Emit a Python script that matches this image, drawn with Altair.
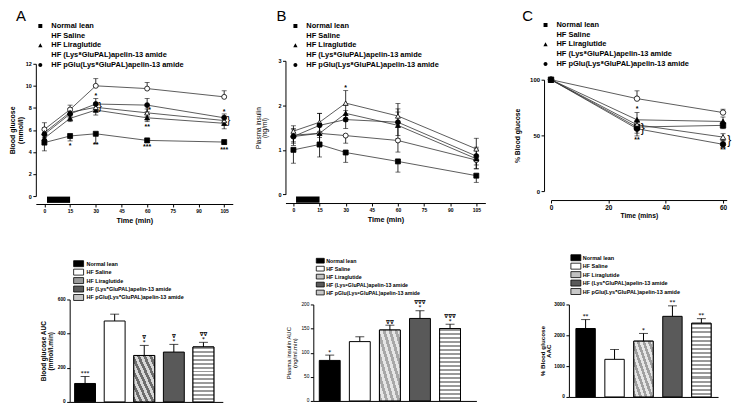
import altair as alt
import pandas as pd

FONT = "Liberation Sans"
SYMFONT = "DejaVu Sans"

GROUPS = ["Normal lean", "HF Saline", "HF Liraglutide",
          "HF (Lys⁸GluPAL)apelin-13 amide",
          "HF pGlu(Lys⁸GluPAL)apelin-13 amide"]

# ---------------- Panel A: blood glucose (mmol/l) ----------------
A_TIME = [0, 15, 30, 60, 105]
A_LEAN = [4.85, 5.45, 5.65, 5.05, 4.9]
A_SALINE = [6.05, 7.85, 10.0, 9.75, 9.0]
A_LIRA = [5.25, 7.05, 7.8, 7.1, 6.6]
A_LYS = [5.75, 7.6, 8.05, 7.55, 6.85]
A_PGLU = [5.6, 7.45, 8.35, 8.25, 7.1]
A_LEAN_SEM = [0.75, 0.45, 0.9, 0.2, 0.2]
A_SALINE_SEM = [0.6, 0.4, 0.65, 0.55, 0.55]
A_LIRA_SEM = [0.35, 0.3, 0.45, 0.35, 0.5]
A_LYS_SEM = [0.45, 0.35, 0.4, 0.35, 0.4]
A_PGLU_SEM = [0.45, 0.35, 0.5, 0.6, 0.35]
A_MARK_T = [15, 30, 60, 105, 30, 61.5, 60, 105]
A_MARK_Y = [4.55, 4.6, 4.45, 4.15, 9.1, 7.8, 6.3, 7.65]
A_MARK = ["*", "**", "***", "***", "*", "*", "**", "*"]
A_BRACE_T = [32.5, 107.5]
A_BRACE_Y = [8.1, 6.85]
A_INJECT = [1.5, 15]

# ---------------- Panel B: plasma insulin (ng/ml) ----------------
B_TIME = [0, 15, 30, 60, 105]
B_LEAN = [1.0, 1.12, 0.94, 0.74, 0.42]
B_SALINE = [1.3, 1.37, 1.32, 1.21, 0.77]
B_LIRA = [1.33, 1.37, 1.82, 1.55, 0.8]
B_LYS = [1.42, 1.62, 2.05, 1.76, 1.02]
B_PGLU = [1.3, 1.55, 1.68, 1.62, 0.86]
B_LEAN_SEM = [0.3, 0.28, 0.22, 0.24, 0.15]
B_SALINE_SEM = [0.2, 0.3, 0.17, 0.26, 0.2]
B_LIRA_SEM = [0.15, 0.2, 0.18, 0.3, 0.22]
B_LYS_SEM = [0.12, 0.2, 0.28, 0.28, 0.24]
B_PGLU_SEM = [0.15, 0.27, 0.2, 0.3, 0.2]
B_MARK_T = [30]
B_MARK_Y = [2.38]
B_MARK = ["*"]
B_INJECT = [1.5, 15]

# ---------------- Panel C: % blood glucose ----------------
C_TIME = [0, 30, 60]
C_LEAN = [100, 57.5, 59]
C_SALINE = [100, 83, 70.5]
C_LIRA = [100, 64, 62.5]
C_LYS = [100, 59.5, 48.5]
C_PGLU = [100, 56, 42]
C_LEAN_SEM = [0, 8, 3]
C_SALINE_SEM = [0, 7, 3]
C_LIRA_SEM = [0, 6.5, 4]
C_LYS_SEM = [0, 4, 3]
C_PGLU_SEM = [0, 4, 3]
C_MARK_T = [30, 30, 60]
C_MARK_Y = [74, 46, 36.5]
C_MARK = ["*", "**", "**"]
C_BRACE_T = [32, 62.2]
C_BRACE_Y = [57, 45.5]

# ---------------- Bar panels (AUC / AAC) ----------------
BA_MEAN = [108, 474, 272, 292, 322]
BA_SEM = [41, 40, 59, 45, 27]
BA_L1 = ["***", "", "*", "*", "*"]
BA_L2 = ["", "", "∇", "∇", "∇∇"]
BB_MEAN = [84, 123, 147, 171, 150]
BB_SEM = [11, 10, 10, 16, 9]
BB_L1 = ["*", "", "∇∇", "*", "*"]
BB_L2 = ["", "", "", "∇∇∇", "∇∇∇"]
BC_MEAN = [2220, 1220, 1810, 2615, 2390]
BC_SEM = [290, 320, 250, 340, 150]
BC_L1 = ["**", "", "*", "**", "**"]
BC_L2 = ["", "", "", "", ""]

SHAPES = ["square", "circle", "triangle-up", "triangle-up", "circle"]
FILLS = ["black", "white", "black", "white", "black"]
_SQ = "M-1.5,0H-0.6M0.6,0H1.5M-0.6,-0.6H0.6V0.6H-0.6Z"
_CI = "M-1.5,0H-0.6M0.6,0H1.5M-0.6,0A0.6,0.6,0,1,1,0.6,0A0.6,0.6,0,1,1,-0.6,0Z"
_TR = "M-1.5,0H-0.6M0.6,0H1.5M0,-0.7L0.65,0.5H-0.65Z"
LEG_SHAPES = [_SQ, _CI, _TR, _TR, _CI]
SWATCH = "M-1,-0.6H1V0.6H-1Z"


def long_tables(times, series, sems, dirs):
    rows, caps = [], []
    for g, m, s, d in zip(GROUPS, series, sems, dirs):
        for t, v, e in zip(times, m, s):
            lo = v - e if d in ("down", "both") else v
            hi = v + e if d in ("up", "both") else v
            rows.append({"g": g, "t": t, "v": v, "lo": lo, "hi": hi})
            if e > 0:
                if d in ("down", "both"):
                    caps.append({"g": g, "t": t, "c": lo})
                if d in ("up", "both"):
                    caps.append({"g": g, "t": t, "c": hi})
    return pd.DataFrame(rows), pd.DataFrame(caps)


def line_panel(p):
    df, caps = long_tables(p["times"], p["series"], p["sems"], p["dirs"])
    if p.get("xrange"):
        xs = alt.Scale(domain=p["xdom"], range=p["xrange"], nice=False, zero=False)
    else:
        xs = alt.Scale(domain=p["xdom"], nice=False, zero=False)
    ys = alt.Scale(domain=p["ydom"], range=p["yrange"], nice=False, zero=False)
    xax = alt.Axis(values=p["xticks"], title=p["xtitle"], format="d", domain=True,
                   domainColor="black", domainWidth=1, tickColor="black", tickSize=3, tickWidth=1,
                   labelFont=FONT, labelFontSize=p["xlab"], labelFontWeight="bold", labelPadding=1.5,
                   labelColor="black", labelFlush=False, labelOverlap=False,
                   titleFont=FONT, titleFontSize=p["xtitle_size"], titleFontWeight="bold",
                   titleColor="black", titlePadding=p["xtitle_pad"], grid=False)
    yax = alt.Axis(values=p["yticks"], title=p["ytitle"], format="d", domain=True,
                   domainColor="black", domainWidth=1,
                   tickColor="black", tickSize=3, tickWidth=1,
                   labelFont=FONT, labelFontSize=p["ylab"], labelFontWeight="bold", labelPadding=1.5,
                   labelColor="black", labelFlush=False, labelOverlap=False,
                   titleFont=FONT, titleFontSize=p["ytitle_size"], titleFontWeight=p["ytitle_weight"],
                   titleLineHeight=p["ytitle_size"] + 0.5,
                   titleColor="black", titlePadding=p["ytitle_pad"], grid=False)

    def X(f):
        return alt.X(f, type="quantitative", scale=xs, axis=xax)

    def Y(f):
        return alt.Y(f, type="quantitative", scale=ys, axis=yax)

    layers = []
    if p.get("inject"):
        inj = pd.DataFrame({"t0": [p["inject"][0]], "t1": [p["inject"][1]],
                            "y0": [p["inject_y"][0]], "y1": [p["inject_y"][1]]})
        layers.append(alt.Chart(inj).mark_rect(color="black").encode(
            x=X("t0"), x2="t1", y=Y("y0"), y2="y1"))
    layers.append(alt.Chart(df).mark_rule(color="black", strokeWidth=0.8).encode(
        x=X("t"), y=Y("lo"), y2="hi"))
    layers.append(alt.Chart(caps).mark_tick(color="black", orient="horizontal", size=5,
                                            thickness=0.8).encode(x=X("t"), y=Y("c")))
    layers.append(alt.Chart(df).mark_line(color="#333333", strokeWidth=0.8).encode(
        x=X("t"), y=Y("v"), detail="g:N"))
    layers.append(alt.Chart(df).mark_point(stroke="black", strokeWidth=0.8, opacity=1,
                                           size=p["msize"]).encode(
        x=X("t"), y=Y("v"),
        shape=alt.Shape("g:N", scale=alt.Scale(domain=GROUPS, range=SHAPES), legend=None),
        fill=alt.Fill("g:N", scale=alt.Scale(domain=GROUPS, range=FILLS), legend=None)))
    marks = pd.DataFrame({"t": p["mark_t"], "y": p["mark_y"], "s": p["mark"]})
    layers.append(alt.Chart(marks).mark_text(font=FONT, fontSize=7, fontWeight="bold",
                                             baseline="middle", color="black").encode(
        x=X("t"), y=Y("y"), text="s:N"))
    if p.get("brace_t"):
        br = pd.DataFrame({"t": p["brace_t"], "y": p["brace_y"], "s": ["}"] * len(p["brace_t"])})
        layers.append(alt.Chart(br).mark_text(font=FONT, fontSize=p["brace_size"],
                                              baseline="middle", color="black").encode(
            x=X("t"), y=Y("y"), text="s:N"))
    leg = alt.Legend(orient="none", legendX=p["leg_x"], legendY=p["leg_y"], title=None,
                     symbolSize=44, symbolStrokeColor="black", symbolStrokeWidth=0.8,
                     labelFont=FONT, labelFontSize=7.5, labelFontWeight="bold",
                     labelColor="black", labelOffset=7, rowPadding=1.8, padding=0,
                     labelLimit=400)
    layers.append(alt.Chart(df).transform_filter("false").mark_point(
        stroke="black", opacity=1).encode(
        x=X("t"), y=Y("v"),
        shape=alt.Shape("g:N", scale=alt.Scale(domain=GROUPS, range=LEG_SHAPES), legend=leg),
        fill=alt.Fill("g:N", scale=alt.Scale(domain=GROUPS, range=FILLS), legend=leg)))
    let = pd.DataFrame({"s": [p["letter"]]})
    layers.append(alt.Chart(let).mark_text(font=FONT, fontSize=15, align="left",
                                           baseline="alphabetic", color="black").encode(
        x=alt.value(p["letter_dx"]), y=alt.value(0), text="s:N"))
    return alt.layer(*layers).resolve_scale(shape="independent", fill="independent").properties(
        width=p["W"], height=p["H"])


def stripes(n, c1, c2, x1, y1, x2, y2):
    stops = []
    for i in range(n):
        a, b, c = i / n, (i + 0.5) / n, (i + 1) / n
        stops += [alt.GradientStop(offset=a, color=c1), alt.GradientStop(offset=b, color=c1),
                  alt.GradientStop(offset=b, color=c2), alt.GradientStop(offset=c, color=c2)]
    return alt.LinearGradient(gradient="linear", stops=stops, x1=x1, y1=y1, x2=x2, y2=y2)


def bar_panel(p):
    df = pd.DataFrame({"g": GROUPS, "v": p["mean"],
                       "hi": [m + s for m, s in zip(p["mean"], p["sem"])],
                       "l1": p["l1"], "l2": p["l2"]})
    xs = alt.Scale(domain=GROUPS, range=p["xrange"], paddingInner=p["pi"],
                   paddingOuter=p["po"], align=p["align"])
    ys = alt.Scale(domain=[0, p["yticks"][-1]], range=p["yrange"], nice=False, zero=True)
    yax = alt.Axis(values=p["yticks"], title=p["ytitle"], format="d", domain=True,
                   domainColor="black", domainWidth=1,
                   offset=-p["xrange"][0], tickColor="black", tickSize=3, tickWidth=1,
                   labelFont=FONT, labelFontSize=4.8, labelFontWeight=p["weight"],
                   labelPadding=1.5, labelColor="black", labelFlush=False, labelOverlap=False,
                   titleFont=FONT, titleFontSize=p["tsize"], titleFontWeight=p["weight"],
                   titleLineHeight=p["tsize"] + 0.5, titleColor="black",
                   titlePadding=p["tpad"], grid=False)
    xax = alt.Axis(labels=False, ticks=False, title=None, domain=True, domainColor="black",
                   domainWidth=1, grid=False)
    X = alt.X("g:N", scale=xs, axis=xax)

    def Y(f):
        return alt.Y(f, type="quantitative", scale=ys, axis=yax)

    fill_scale = alt.Scale(domain=GROUPS, range=p["fills"])
    err = alt.Chart(df).mark_rule(color="black", strokeWidth=1).encode(x=X, y=Y("v"), y2="hi")
    cap = alt.Chart(df).mark_tick(color="black", orient="horizontal", size=9,
                                  thickness=1).encode(x=X, y=Y("hi"))
    bars = alt.Chart(df).mark_bar(stroke="black", strokeWidth=1).encode(
        x=X, y=Y("v"), fill=alt.Fill("g:N", scale=fill_scale, legend=None))
    lira = alt.Chart(df).transform_filter(alt.datum.g == GROUPS[2]).mark_bar(
        stroke="black", strokeWidth=1,
        fill=stripes(7, p["lira"][0], p["lira"][1], 0, 1, 1, 0)).encode(x=X, y=Y("v"))
    pglu = alt.Chart(df).transform_filter(alt.datum.g == GROUPS[4]).mark_bar(
        stroke="black", strokeWidth=1,
        fill=stripes(p["nstripe"], "#9a9a9a", "white", 0, 0, 0, 1)).encode(x=X, y=Y("v"))
    t1 = alt.Chart(df).mark_text(font=SYMFONT, fontSize=5.5, fontWeight="bold",
                                 baseline="bottom", dy=-0.5, color="black").encode(
        x=X, y=Y("hi"), text="l1:N")
    t2 = alt.Chart(df).mark_text(font=SYMFONT, fontSize=5.5, fontWeight="bold",
                                 baseline="bottom", dy=-5.5, color="black").encode(
        x=X, y=Y("hi"), text="l2:N")
    main = alt.layer(err, cap, bars, lira, pglu, t1, t2)

    # legend drawn as swatches + labels, rows placed by a point scale
    ldf = pd.DataFrame({"g": GROUPS})
    ly = alt.Y("g:N", scale=alt.Scale(type="point", domain=GROUPS, range=p["leg_rows"],
                                       padding=0), axis=None)
    sw = alt.Chart(ldf).mark_point(shape=SWATCH, size=p["swsize"], stroke="black",
                                   strokeWidth=0.8, opacity=1, filled=True).encode(
        x=alt.value(p["leg_x"] + 5), y=ly, fill=alt.Fill("g:N", scale=fill_scale, legend=None))
    lt = alt.Chart(ldf).mark_text(font=FONT, fontSize=p["lsize"], fontWeight="bold",
                                  align="left", baseline="middle", color="black").encode(
        x=alt.value(p["leg_x"] + 10 + p["lgap"]), y=ly, text="g:N")
    legend = alt.layer(sw, lt)
    return alt.layer(main, legend).resolve_scale(y="independent").properties(
        width=p["W"], height=p["H"])


panel_a = line_panel(dict(
    times=A_TIME, series=[A_LEAN, A_SALINE, A_LIRA, A_LYS, A_PGLU],
    sems=[A_LEAN_SEM, A_SALINE_SEM, A_LIRA_SEM, A_LYS_SEM, A_PGLU_SEM],
    dirs=["down", "up", "both", "both", "both"],
    W=198, H=184, xdom=[-5, 110], ydom=[0, 12], yrange=[176, 43],
    xticks=[0, 15, 30, 45, 60, 75, 90, 105], yticks=[0, 2, 4, 6, 8, 10, 12],
    xtitle="Time (min)", ytitle=["Blood glucose", "(mmol/l)"],
    xlab=5, ylab=5.5, xtitle_size=7.3, xtitle_pad=3, ytitle_size=7, ytitle_weight="bold",
    ytitle_pad=2, msize=25,
    mark_t=A_MARK_T, mark_y=A_MARK_Y, mark=A_MARK,
    brace_t=A_BRACE_T, brace_y=A_BRACE_Y, brace_size=11,
    inject=A_INJECT, inject_y=[-0.62, -0.05],
    leg_x=0.5, leg_y=1, letter="A", letter_dx=-20))

panel_b = line_panel(dict(
    times=B_TIME, series=[B_LEAN, B_SALINE, B_LIRA, B_LYS, B_PGLU],
    sems=[B_LEAN_SEM, B_SALINE_SEM, B_LIRA_SEM, B_LYS_SEM, B_PGLU_SEM],
    dirs=["down", "down", "both", "up", "both"],
    W=201, H=183, xdom=[-4.57, 110.2], ydom=[0, 3], yrange=[174.3, 40],
    xticks=[0, 15, 30, 45, 60, 75, 90, 105], yticks=[0, 1, 2, 3],
    xtitle="Time (min)", ytitle=["Plasma insulin", "(ng/ml)"],
    xlab=5, ylab=5.5, xtitle_size=7.3, xtitle_pad=3, ytitle_size=6.5, ytitle_weight="normal",
    ytitle_pad=10, msize=25,
    mark_t=B_MARK_T, mark_y=B_MARK_Y, mark=B_MARK,
    inject=B_INJECT, inject_y=[-0.19, -0.05],
    leg_x=6, leg_y=1, letter="B", letter_dx=-9))

panel_c = line_panel(dict(
    times=C_TIME, series=[C_LEAN, C_SALINE, C_LIRA, C_LYS, C_PGLU],
    sems=[C_LEAN_SEM, C_SALINE_SEM, C_LIRA_SEM, C_LYS_SEM, C_PGLU_SEM],
    dirs=["down", "up", "both", "both", "both"],
    W=185, H=180, xdom=[0, 61.3], xrange=[7, 183.7], ydom=[0, 100], yrange=[171, 59],
    xticks=[0, 20, 40, 60], yticks=[0, 50, 100],
    xtitle="Time (mins)", ytitle="% Blood glucose",
    xlab=6.5, ylab=6, xtitle_size=6.8, xtitle_pad=2, ytitle_size=6.8, ytitle_weight="bold",
    ytitle_pad=9, msize=30,
    mark_t=C_MARK_T, mark_y=C_MARK_Y, mark=C_MARK,
    brace_t=C_BRACE_T, brace_y=C_BRACE_Y, brace_size=12,
    leg_x=-2.5, leg_y=0, letter="C", letter_dx=-22))

bar_a = bar_panel(dict(
    mean=BA_MEAN, sem=BA_SEM, l1=BA_L1, l2=BA_L2,
    W=188, H=151, yrange=[151, 48], yticks=[0, 200, 400, 600],
    ytitle=["Blood glucose AUC", "(mmol/l.min)"], weight="bold", tsize=6.5, tpad=4, lsize=5.5,
    xrange=[34, 188], pi=0.294, po=0.235, align=0.357,
    leg_x=38, leg_rows=[12, 46], lgap=3, nstripe=14, swsize=100,
    fills=["black", "white", "#9a9a9a", "#595959", "#c6c6c6"], lira=["#6e6e6e", "#d8d8d8"]))

bar_b = bar_panel(dict(
    mean=BB_MEAN, sem=BB_SEM, l1=BB_L1, l2=BB_L2,
    W=207, H=150, yrange=[150, 53], yticks=[0, 50, 100, 150, 200],
    ytitle=["Plasma insulin AUC", "(ng/ml.min)"], weight="normal", tsize=6, tpad=3, lsize=5.3,
    xrange=[28, 192], pi=0.3058, po=0.364, align=0.273,
    leg_x=30, leg_rows=[9, 41], lgap=1, nstripe=18, swsize=64,
    fills=["black", "white", "#c4c4c4", "#595959", "#c8c8c8"], lira=["#a8a8a8", "#e6e6e6"]))

bar_c = bar_panel(dict(
    mean=BC_MEAN, sem=BC_SEM, l1=BC_L1, l2=BC_L2,
    W=175, H=146, yrange=[146, 53], yticks=[0, 1000, 2000, 3000],
    ytitle=["% Blood glucose", "AAC"], weight="bold", tsize=6.3, tpad=2, lsize=5.5,
    xrange=[25, 175], pi=0.33, po=0.242, align=0.5,
    leg_x=27, leg_rows=[6, 40], lgap=2, nstripe=18, swsize=100,
    fills=["black", "white", "#c0c0c0", "#5a5a5a", "#c8c8c8"], lira=["#a0a0a0", "#e6e6e6"]))

chart = alt.concat(panel_a, panel_b, panel_c, bar_a, bar_b, bar_c,
                   columns=3, spacing={"row": 48, "column": 53},
                   bounds="flush", align="each")
chart = chart.resolve_scale(fill="independent", shape="independent",
                            x="independent", y="independent")
chart = chart.resolve_legend(fill="independent", shape="independent")
chart = chart.properties(padding=0, background="white").configure_view(stroke=None)

chart.save("out.html", embed_options={"renderer": "svg", "actions": False})
